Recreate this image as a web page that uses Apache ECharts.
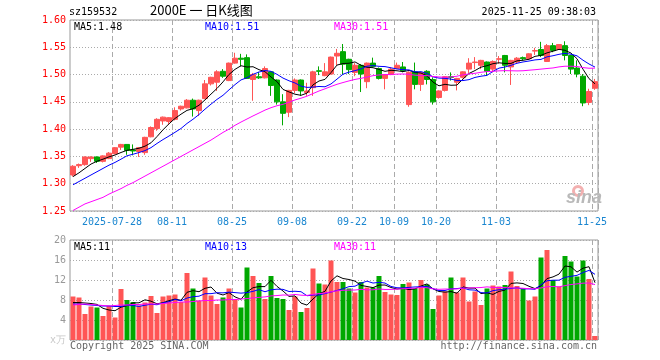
<!DOCTYPE html>
<html><head><meta charset="utf-8">
<script src="https://cdn.jsdelivr.net/npm/echarts@6/dist/echarts.min.js"></script>
<style>html,body{margin:0;padding:0;background:#fff}#c{width:660px;height:360px}</style>
</head><body><div id="c"></div>
<script>
// ---- data ----
const dates = [
'2025-07-17','2025-07-18','2025-07-21','2025-07-22','2025-07-23','2025-07-24','2025-07-25','2025-07-28','2025-07-29','2025-07-30','2025-07-31',
'2025-08-01','2025-08-04','2025-08-05','2025-08-06','2025-08-07','2025-08-08','2025-08-11','2025-08-12','2025-08-13','2025-08-14','2025-08-15',
'2025-08-18','2025-08-19','2025-08-20','2025-08-21','2025-08-22','2025-08-25','2025-08-26','2025-08-27','2025-08-28','2025-08-29',
'2025-09-01','2025-09-02','2025-09-03','2025-09-04','2025-09-05','2025-09-08','2025-09-09','2025-09-10','2025-09-11','2025-09-12',
'2025-09-15','2025-09-16','2025-09-17','2025-09-18','2025-09-19','2025-09-22','2025-09-23','2025-09-24','2025-09-25','2025-09-26',
'2025-09-29','2025-09-30','2025-10-09','2025-10-10','2025-10-13','2025-10-14','2025-10-15','2025-10-16','2025-10-17','2025-10-20',
'2025-10-21','2025-10-22','2025-10-23','2025-10-24','2025-10-27','2025-10-28','2025-10-29','2025-10-30','2025-10-31','2025-11-03',
'2025-11-04','2025-11-05','2025-11-06','2025-11-07','2025-11-10','2025-11-11','2025-11-12','2025-11-13','2025-11-14','2025-11-17',
'2025-11-18','2025-11-19','2025-11-20','2025-11-21','2025-11-24','2025-11-25'];
const opens = [1.316,1.333,1.335,1.346,1.349,1.341,1.346,1.355,1.367,1.372,1.362,1.359,1.357,1.386,1.401,1.415,1.414,1.418,1.437,1.439,
1.453,1.434,1.456,1.483,1.486,1.506,1.489,1.521,1.530,1.531,1.491,1.496,1.494,1.505,1.490,1.450,1.431,1.471,1.490,1.467,
1.476,1.507,1.498,1.501,1.534,1.542,1.528,1.504,1.517,1.487,1.521,1.511,1.493,1.500,1.511,1.514,1.445,1.505,1.482,1.506,
1.491,1.458,1.471,1.496,1.486,1.495,1.510,1.522,1.517,1.523,1.510,1.528,1.535,1.514,1.523,1.531,1.529,1.543,1.546,1.524,
1.553,1.546,1.553,1.535,1.512,1.497,1.449,1.475];
const closes = [1.332,1.335,1.349,1.349,1.341,1.351,1.356,1.366,1.372,1.361,1.360,1.366,1.385,1.403,1.418,1.422,1.421,1.434,1.442,1.453,
1.437,1.453,1.483,1.495,1.505,1.497,1.521,1.530,1.528,1.493,1.500,1.494,1.511,1.480,1.450,1.429,1.471,1.490,1.470,1.470,
1.505,1.506,1.505,1.532,1.539,1.519,1.509,1.517,1.501,1.521,1.515,1.493,1.500,1.510,1.517,1.507,1.504,1.482,1.504,1.491,
1.450,1.470,1.496,1.495,1.493,1.505,1.521,1.523,1.526,1.506,1.524,1.529,1.517,1.526,1.530,1.529,1.538,1.544,1.535,1.553,
1.544,1.555,1.535,1.510,1.501,1.448,1.469,1.487];
const lows = [1.313,1.329,1.333,1.340,1.338,1.339,1.345,1.354,1.362,1.353,1.352,1.349,1.353,1.385,1.397,1.408,1.408,1.416,1.434,1.438,
1.423,1.424,1.455,1.480,1.470,1.494,1.488,1.520,1.515,1.492,1.452,1.492,1.493,1.461,1.445,1.407,1.422,1.466,1.461,1.461,
1.461,1.499,1.497,1.500,1.517,1.501,1.501,1.497,1.468,1.475,1.513,1.491,1.473,1.499,1.510,1.504,1.441,1.473,1.470,1.482,
1.445,1.456,1.469,1.489,1.471,1.493,1.503,1.510,1.510,1.498,1.504,1.520,1.504,1.481,1.521,1.526,1.528,1.536,1.532,1.523,
1.541,1.545,1.526,1.501,1.495,1.442,1.444,1.472];
const highs = [1.334,1.337,1.350,1.350,1.350,1.352,1.358,1.367,1.373,1.372,1.372,1.367,1.386,1.405,1.420,1.423,1.422,1.440,1.443,1.455,
1.456,1.454,1.490,1.496,1.508,1.510,1.522,1.540,1.538,1.537,1.503,1.505,1.515,1.506,1.491,1.464,1.472,1.493,1.491,1.485,
1.507,1.515,1.521,1.533,1.547,1.556,1.529,1.521,1.519,1.522,1.531,1.513,1.501,1.513,1.522,1.523,1.506,1.522,1.505,1.508,
1.495,1.471,1.497,1.504,1.494,1.506,1.530,1.532,1.527,1.524,1.526,1.534,1.536,1.527,1.532,1.533,1.539,1.549,1.560,1.556,
1.558,1.556,1.561,1.536,1.526,1.501,1.474,1.492];
const volumes = [8.7,8.5,5.2,6.7,6.5,4.8,6.8,4.5,10.2,8.0,7.6,6.9,7.5,8.8,5.4,8.7,8.9,9.1,7.6,13.4,
10.3,7.9,12.5,8.9,7.2,8.5,10.3,8.2,6.5,14.5,12.8,11.4,8.2,12.8,8.4,8.2,6.0,8.7,5.6,6.4,
14.3,11.3,11.1,15.9,11.6,11.6,10.3,9.5,11.6,10.5,10.5,12.8,9.6,9.1,9.0,11.2,11.5,10.3,12.0,11.1,
6.2,8.9,9.7,12.5,9.5,12.5,7.7,9.7,7.0,10.3,10.9,10.7,11.0,13.7,10.8,10.3,7.9,8.7,16.5,18.0,
12.0,10.7,16.8,15.7,12.7,15.9,12.2,0.8];
// moving-average values before each window is complete
const priceMa5Head = [1.313,1.320,1.328,1.336];
const priceMa10Head = [1.298,1.304,1.310,1.316,1.322,1.328,1.334,1.339,1.345];
const priceMa30Head = [1.251,1.257,1.263,1.267,1.271,1.275,1.281,1.286,1.291,1.297,1.302,1.308,1.314,1.320,1.326,
1.332,1.338,1.344,1.350,1.356,1.362,1.368,1.374,1.380,1.387,1.394,1.400,1.407,1.413];
const volMa5Head = [7.5,7.5,7.4,7.3];
const volMa10Head = [7.2,7.2,7.1,7.0,6.9,6.8,6.8,6.7,6.7];
const volMa30Head = [7.0,7.1,7.2,7.1,7.0,6.9,6.8,6.9,7.0,7.0,7.1,7.1,7.2,7.2,7.2,7.3,7.4,7.5,7.6,7.6,
7.7,7.8,7.9,7.9,8.0,8.0,8.1,8.1,8.2];
const tickDates = ['2025-07-28','2025-08-11','2025-08-25','2025-09-08','2025-09-22','2025-10-09','2025-10-20','2025-11-03','2025-11-25'];
const tickLabels = ['2025-07-28','08-11','08-25','09-08','09-22','10-09','10-20','11-03','11-25'];
const priceLegend = ['MA5:1.48','MA10:1.51','MA30:1.51'];
const volLegend = ['MA5:11','MA10:13','MA30:11'];
const headerCode = 'sz159532';
const headerTitle = '2000E 一 日K线图';
const headerTime = '2025-11-25 09:38:03';

// ---- build ----
function movingAverage(vals, n, head) {
  return vals.map((v, i) => {
    if (i < n - 1) return head[i];
    let s = 0;
    for (let k = i - n + 1; k <= i; k++) s += vals[k];
    return +(s / n).toFixed(4);
  });
}
const UP = '#ff5555', DOWN = '#00a800';
const MONO = '"DejaVu Sans Mono", "Liberation Mono", monospace';
const tickIdx = new Set(tickDates.map(d => dates.indexOf(d)));
const labelFor = {};
tickDates.forEach((d, k) => { labelFor[d] = tickLabels[k]; });
const candleData = dates.map((d, i) => [opens[i], closes[i], lows[i], highs[i]]);
const volData = volumes.map((v, i) => ({
  value: v,
  itemStyle: { color: closes[i] > opens[i] || (closes[i] === opens[i] && i > 0 && closes[i] >= closes[i - 1]) ? UP : DOWN }
}));
const showTick = (i) => tickIdx.has(i);
const dashed = { color: '#aaaaaa', type: [5, 3], width: 1 };
const dotted = { color: '#aaaaaa', type: [1, 2], width: 1 };

const chart = echarts.init(document.getElementById('c'), null, { renderer: 'canvas' });
const lineBase = { type: 'line', symbol: 'none', silent: true, animation: false, lineStyle: { width: 1 } };
chart.setOption({
  animation: false,
  backgroundColor: '#fff',
  grid: [
    { left: 70, top: 20, width: 528, height: 191, show: true, borderColor: '#999', borderWidth: 1 },
    { left: 70, top: 240, width: 528, height: 100, show: true, borderColor: '#999', borderWidth: 1 }
  ],
  xAxis: [
    { type: 'category', gridIndex: 0, data: dates, boundaryGap: true,
      axisLine: { show: false }, axisTick: { show: false },
      axisLabel: { interval: showTick, formatter: v => labelFor[v] || '', color: '#1a86d0', fontFamily: MONO, fontSize: 10, margin: 6, padding: [0, 6, 0, 0] },
      splitLine: { show: true, interval: showTick, lineStyle: dashed } },
    { type: 'category', gridIndex: 1, data: dates, boundaryGap: true,
      axisLine: { show: false }, axisTick: { show: false }, axisLabel: { show: false },
      splitLine: { show: true, interval: showTick, lineStyle: dashed } }
  ],
  yAxis: [
    { type: 'value', gridIndex: 0, min: 1.25, max: 1.60, interval: 0.05, scale: true,
      axisLine: { show: false }, axisTick: { show: false },
      axisLabel: { color: '#ff0000', fontFamily: MONO, fontSize: 10, margin: 4, formatter: v => v.toFixed(2) },
      splitLine: { show: true, lineStyle: dotted } },
    { type: 'value', gridIndex: 1, min: 0, max: 20, interval: 4,
      axisLine: { show: false }, axisTick: { show: false },
      axisLabel: { color: '#999999', fontFamily: MONO, fontSize: 10, margin: 4,
        formatter: v => v === 0 ? '{u|x万}' : String(v), rich: { u: { color: '#c8c8c8', fontSize: 10, fontFamily: MONO } } },
      splitLine: { show: true, lineStyle: dotted } }
  ],
  series: [
    { type: 'candlestick', xAxisIndex: 0, yAxisIndex: 0, data: candleData, barWidth: 5, silent: true,
      itemStyle: { color: UP, color0: DOWN, borderColor: UP, borderColor0: DOWN, borderWidth: 1 } },
    Object.assign({}, lineBase, { xAxisIndex: 0, yAxisIndex: 0, data: movingAverage(closes, 5, priceMa5Head), lineStyle: { width: 1, color: '#000000' } }),
    Object.assign({}, lineBase, { xAxisIndex: 0, yAxisIndex: 0, data: movingAverage(closes, 10, priceMa10Head), lineStyle: { width: 1, color: '#0000ff' } }),
    Object.assign({}, lineBase, { xAxisIndex: 0, yAxisIndex: 0, data: movingAverage(closes, 30, priceMa30Head), lineStyle: { width: 1, color: '#ff00ff' } }),
    { type: 'bar', xAxisIndex: 1, yAxisIndex: 1, data: volData, barWidth: 5, silent: true },
    Object.assign({}, lineBase, { xAxisIndex: 1, yAxisIndex: 1, data: movingAverage(volumes, 5, volMa5Head), lineStyle: { width: 1, color: '#000000' } }),
    Object.assign({}, lineBase, { xAxisIndex: 1, yAxisIndex: 1, data: movingAverage(volumes, 10, volMa10Head), lineStyle: { width: 1, color: '#0000ff' } }),
    Object.assign({}, lineBase, { xAxisIndex: 1, yAxisIndex: 1, data: movingAverage(volumes, 30, volMa30Head), lineStyle: { width: 1, color: '#ff00ff' } })
  ],
  graphic: [
    { type: 'text', left: 69, top: 7, style: { text: headerCode, font: '10px ' + MONO, fill: '#000' } },
    { type: 'text', left: 150, top: 4, style: { text: headerTitle, font: '13px "Noto Sans CJK SC"', fill: '#000' } },
    { type: 'text', right: 64, top: 7, style: { text: headerTime, font: '10px ' + MONO, fill: '#000' } },
    { type: 'text', left: 74, top: 22, style: { text: priceLegend[0], font: '10px ' + MONO, fill: '#000000' } },
    { type: 'text', left: 205, top: 22, style: { text: priceLegend[1], font: '10px ' + MONO, fill: '#0000ff' } },
    { type: 'text', left: 334, top: 22, style: { text: priceLegend[2], font: '10px ' + MONO, fill: '#ff00ff' } },
    { type: 'text', left: 74, top: 242, style: { text: volLegend[0], font: '10px ' + MONO, fill: '#000000' } },
    { type: 'text', left: 205, top: 242, style: { text: volLegend[1], font: '10px ' + MONO, fill: '#0000ff' } },
    { type: 'text', left: 334, top: 242, style: { text: volLegend[2], font: '10px ' + MONO, fill: '#ff00ff' } },
    { type: 'text', left: 70, top: 341, style: { text: 'Copyright 2025 SINA.COM', font: '10px ' + MONO, fill: '#666' } },
    { type: 'text', right: 63, top: 341, style: { text: 'http://finance.sina.com.cn', font: '10px ' + MONO, fill: '#666' } },
    { type: 'ring', shape: { cx: 578, cy: 191, r: 6, r0: 3 }, style: { fill: '#f3b0b0' }, z: 1 },
    { type: 'text', left: 566, top: 189, style: { text: 'sina', font: 'italic bold 18px "Liberation Sans"', fill: '#b9b9b9' }, z: 1 }
  ]
});
</script></body></html>
